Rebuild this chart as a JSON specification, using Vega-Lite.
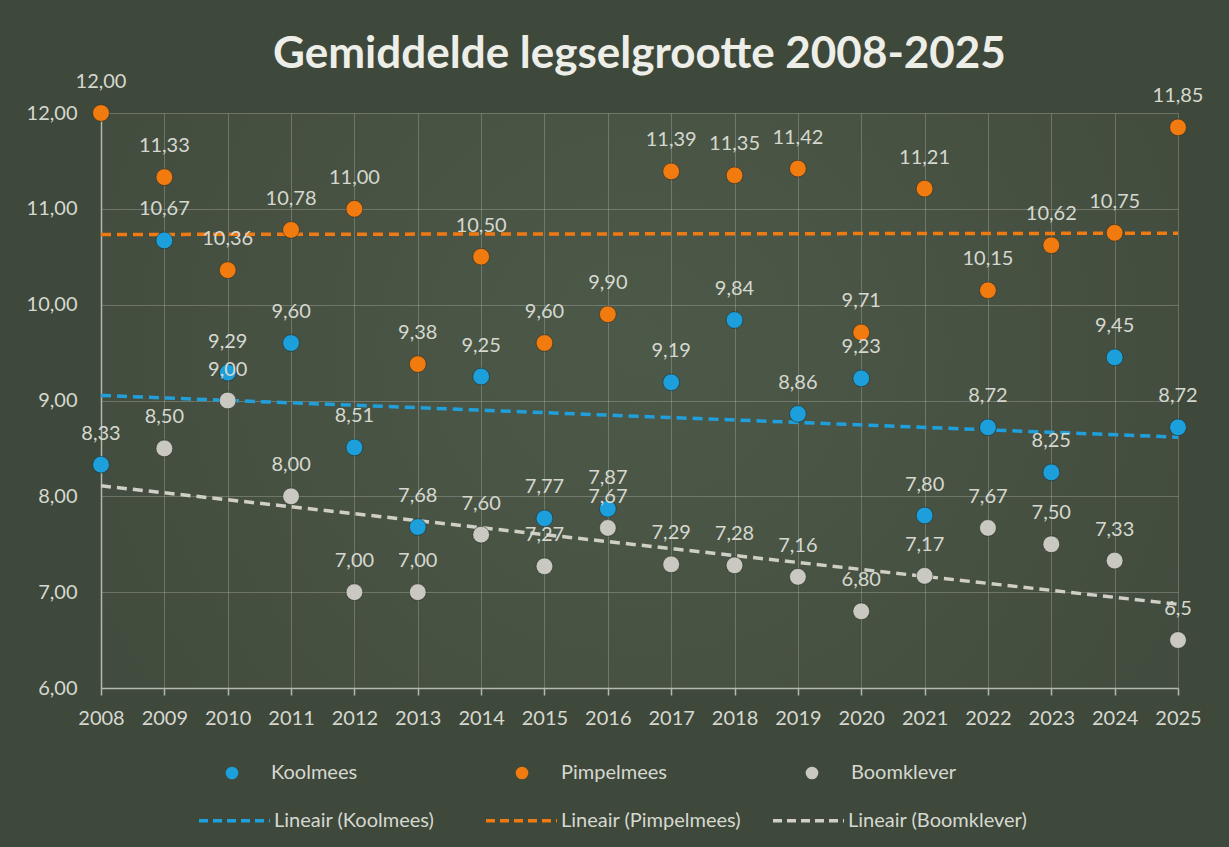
{
  "$schema": "https://vega.github.io/schema/vega-lite/v6.json",
  "width": 1077,
  "height": 575,
  "autosize": {"type": "none"},
  "padding": {"left": 101, "top": 113, "right": 51, "bottom": 159},
  "background": "#3e483b",
  "title": {
    "text": "Gemiddelde legselgrootte 2008-2025",
    "font": "Lato",
    "fontSize": 44,
    "fontWeight": "bold",
    "color": "#eeeee8",
    "anchor": "middle",
    "frame": "group",
    "baseline": "alphabetic",
    "offset": -40
  },
  "data": {
    "values": [
      {"jaar": 2008, "soort": "Koolmees", "trend": "Lineair (Koolmees)", "waarde": 8.33, "label": "8,33"},
      {"jaar": 2009, "soort": "Koolmees", "trend": "Lineair (Koolmees)", "waarde": 10.67, "label": "10,67"},
      {"jaar": 2010, "soort": "Koolmees", "trend": "Lineair (Koolmees)", "waarde": 9.29, "label": "9,29"},
      {"jaar": 2011, "soort": "Koolmees", "trend": "Lineair (Koolmees)", "waarde": 9.60, "label": "9,60"},
      {"jaar": 2012, "soort": "Koolmees", "trend": "Lineair (Koolmees)", "waarde": 8.51, "label": "8,51"},
      {"jaar": 2013, "soort": "Koolmees", "trend": "Lineair (Koolmees)", "waarde": 7.68, "label": "7,68"},
      {"jaar": 2014, "soort": "Koolmees", "trend": "Lineair (Koolmees)", "waarde": 9.25, "label": "9,25"},
      {"jaar": 2015, "soort": "Koolmees", "trend": "Lineair (Koolmees)", "waarde": 7.77, "label": "7,77"},
      {"jaar": 2016, "soort": "Koolmees", "trend": "Lineair (Koolmees)", "waarde": 7.87, "label": "7,87"},
      {"jaar": 2017, "soort": "Koolmees", "trend": "Lineair (Koolmees)", "waarde": 9.19, "label": "9,19"},
      {"jaar": 2018, "soort": "Koolmees", "trend": "Lineair (Koolmees)", "waarde": 9.84, "label": "9,84"},
      {"jaar": 2019, "soort": "Koolmees", "trend": "Lineair (Koolmees)", "waarde": 8.86, "label": "8,86"},
      {"jaar": 2020, "soort": "Koolmees", "trend": "Lineair (Koolmees)", "waarde": 9.23, "label": "9,23"},
      {"jaar": 2021, "soort": "Koolmees", "trend": "Lineair (Koolmees)", "waarde": 7.80, "label": "7,80"},
      {"jaar": 2022, "soort": "Koolmees", "trend": "Lineair (Koolmees)", "waarde": 8.72, "label": "8,72"},
      {"jaar": 2023, "soort": "Koolmees", "trend": "Lineair (Koolmees)", "waarde": 8.25, "label": "8,25"},
      {"jaar": 2024, "soort": "Koolmees", "trend": "Lineair (Koolmees)", "waarde": 9.45, "label": "9,45"},
      {"jaar": 2025, "soort": "Koolmees", "trend": "Lineair (Koolmees)", "waarde": 8.72, "label": "8,72"},
      {"jaar": 2008, "soort": "Pimpelmees", "trend": "Lineair (Pimpelmees)", "waarde": 12.00, "label": "12,00"},
      {"jaar": 2009, "soort": "Pimpelmees", "trend": "Lineair (Pimpelmees)", "waarde": 11.33, "label": "11,33"},
      {"jaar": 2010, "soort": "Pimpelmees", "trend": "Lineair (Pimpelmees)", "waarde": 10.36, "label": "10,36"},
      {"jaar": 2011, "soort": "Pimpelmees", "trend": "Lineair (Pimpelmees)", "waarde": 10.78, "label": "10,78"},
      {"jaar": 2012, "soort": "Pimpelmees", "trend": "Lineair (Pimpelmees)", "waarde": 11.00, "label": "11,00"},
      {"jaar": 2013, "soort": "Pimpelmees", "trend": "Lineair (Pimpelmees)", "waarde": 9.38, "label": "9,38"},
      {"jaar": 2014, "soort": "Pimpelmees", "trend": "Lineair (Pimpelmees)", "waarde": 10.50, "label": "10,50"},
      {"jaar": 2015, "soort": "Pimpelmees", "trend": "Lineair (Pimpelmees)", "waarde": 9.60, "label": "9,60"},
      {"jaar": 2016, "soort": "Pimpelmees", "trend": "Lineair (Pimpelmees)", "waarde": 9.90, "label": "9,90"},
      {"jaar": 2017, "soort": "Pimpelmees", "trend": "Lineair (Pimpelmees)", "waarde": 11.39, "label": "11,39"},
      {"jaar": 2018, "soort": "Pimpelmees", "trend": "Lineair (Pimpelmees)", "waarde": 11.35, "label": "11,35"},
      {"jaar": 2019, "soort": "Pimpelmees", "trend": "Lineair (Pimpelmees)", "waarde": 11.42, "label": "11,42"},
      {"jaar": 2020, "soort": "Pimpelmees", "trend": "Lineair (Pimpelmees)", "waarde": 9.71, "label": "9,71"},
      {"jaar": 2021, "soort": "Pimpelmees", "trend": "Lineair (Pimpelmees)", "waarde": 11.21, "label": "11,21"},
      {"jaar": 2022, "soort": "Pimpelmees", "trend": "Lineair (Pimpelmees)", "waarde": 10.15, "label": "10,15"},
      {"jaar": 2023, "soort": "Pimpelmees", "trend": "Lineair (Pimpelmees)", "waarde": 10.62, "label": "10,62"},
      {"jaar": 2024, "soort": "Pimpelmees", "trend": "Lineair (Pimpelmees)", "waarde": 10.75, "label": "10,75"},
      {"jaar": 2025, "soort": "Pimpelmees", "trend": "Lineair (Pimpelmees)", "waarde": 11.85, "label": "11,85"},
      {"jaar": 2009, "soort": "Boomklever", "trend": "Lineair (Boomklever)", "waarde": 8.50, "label": "8,50"},
      {"jaar": 2010, "soort": "Boomklever", "trend": "Lineair (Boomklever)", "waarde": 9.00, "label": "9,00"},
      {"jaar": 2011, "soort": "Boomklever", "trend": "Lineair (Boomklever)", "waarde": 8.00, "label": "8,00"},
      {"jaar": 2012, "soort": "Boomklever", "trend": "Lineair (Boomklever)", "waarde": 7.00, "label": "7,00"},
      {"jaar": 2013, "soort": "Boomklever", "trend": "Lineair (Boomklever)", "waarde": 7.00, "label": "7,00"},
      {"jaar": 2014, "soort": "Boomklever", "trend": "Lineair (Boomklever)", "waarde": 7.60, "label": "7,60"},
      {"jaar": 2015, "soort": "Boomklever", "trend": "Lineair (Boomklever)", "waarde": 7.27, "label": "7,27"},
      {"jaar": 2016, "soort": "Boomklever", "trend": "Lineair (Boomklever)", "waarde": 7.67, "label": "7,67"},
      {"jaar": 2017, "soort": "Boomklever", "trend": "Lineair (Boomklever)", "waarde": 7.29, "label": "7,29"},
      {"jaar": 2018, "soort": "Boomklever", "trend": "Lineair (Boomklever)", "waarde": 7.28, "label": "7,28"},
      {"jaar": 2019, "soort": "Boomklever", "trend": "Lineair (Boomklever)", "waarde": 7.16, "label": "7,16"},
      {"jaar": 2020, "soort": "Boomklever", "trend": "Lineair (Boomklever)", "waarde": 6.80, "label": "6,80"},
      {"jaar": 2021, "soort": "Boomklever", "trend": "Lineair (Boomklever)", "waarde": 7.17, "label": "7,17"},
      {"jaar": 2022, "soort": "Boomklever", "trend": "Lineair (Boomklever)", "waarde": 7.67, "label": "7,67"},
      {"jaar": 2023, "soort": "Boomklever", "trend": "Lineair (Boomklever)", "waarde": 7.50, "label": "7,50"},
      {"jaar": 2024, "soort": "Boomklever", "trend": "Lineair (Boomklever)", "waarde": 7.33, "label": "7,33"},
      {"jaar": 2025, "soort": "Boomklever", "trend": "Lineair (Boomklever)", "waarde": 6.50, "label": "6,5"}
    ]
  },
  "encoding": {
    "x": {
      "field": "jaar",
      "type": "quantitative",
      "scale": {"domain": [2008, 2025], "nice": false, "zero": false},
      "axis": {
        "title": null,
        "values": [2008, 2009, 2010, 2011, 2012, 2013, 2014, 2015, 2016, 2017, 2018, 2019, 2020, 2021, 2022, 2023, 2024, 2025],
        "format": "d",
        "grid": true,
        "ticks": true,
        "tickSize": 7,
        "labelPadding": 13,
        "labelFlush": false,
        "labelOverlap": false
      }
    },
    "y": {
      "field": "waarde",
      "type": "quantitative",
      "scale": {"domain": [6, 12], "nice": false, "zero": false},
      "axis": {
        "title": null,
        "values": [6, 7, 8, 9, 10, 11, 12],
        "format": ".2f",
        "grid": true,
        "ticks": false,
        "labelPadding": 24,
        "labelFlush": false
      }
    }
  },
  "layer": [
    {
      "transform": [
        {"regression": "waarde", "on": "jaar", "groupby": ["trend"], "method": "linear", "extent": [2008, 2025]}
      ],
      "mark": {"type": "line", "strokeWidth": 3.5, "strokeDash": [10, 6]},
      "encoding": {
        "stroke": {
          "field": "trend",
          "type": "nominal",
          "scale": {
            "domain": ["Lineair (Koolmees)", "Lineair (Pimpelmees)", "Lineair (Boomklever)"],
            "range": ["#1fa0dc", "#f07a12", "#cfcfc7"]
          },
          "legend": {
            "title": null,
            "orient": "none",
            "legendX": 96,
            "legendY": 670,
            "direction": "horizontal",
            "symbolType": "stroke",
            "symbolSize": 5041,
            "symbolStrokeWidth": 3.5,
            "symbolDash": [9, 5],
            "labelOffset": 2,
            "columnPadding": 24,
            "gridAlign": "all"
          }
        }
      }
    },
    {
      "mark": {"type": "circle", "size": 280, "opacity": 1, "stroke": "#1e241c", "strokeWidth": 1, "strokeOpacity": 0.5},
      "encoding": {
        "color": {
          "field": "soort",
          "type": "nominal",
          "scale": {
            "domain": ["Koolmees", "Pimpelmees", "Boomklever"],
            "range": ["#1c9fda", "#f27b10", "#c9c9c1"]
          },
          "legend": {
            "title": null,
            "orient": "none",
            "legendX": 121,
            "legendY": 650,
            "direction": "horizontal",
            "symbolType": "circle",
            "symbolSize": 160,
            "symbolStrokeWidth": 0,
            "labelOffset": 29,
            "columnPadding": 135,
            "gridAlign": "all"
          }
        }
      }
    },
    {
      "mark": {"type": "text", "font": "Lato", "fontSize": 20, "color": "#d6d8d0", "baseline": "alphabetic", "align": "center", "dy": -25},
      "encoding": {
        "text": {"field": "label", "type": "nominal"}
      }
    }
  ],
  "config": {
    "locale": {"number": {"decimal": ",", "thousands": ".", "grouping": [3], "currency": ["€ ", ""]}},
    "view": {
      "stroke": null,
      "fill": {
        "gradient": "radial",
        "x1": 0.5, "y1": 0.45, "r1": 0,
        "x2": 0.5, "y2": 0.45, "r2": 0.75,
        "stops": [
          {"offset": 0, "color": "#4d5948"},
          {"offset": 1, "color": "#3e483b"}
        ]
      }
    },
    "font": "Lato",
    "axis": {
      "labelFont": "Lato",
      "labelFontSize": 20,
      "labelColor": "#d6d8d0",
      "domainColor": "#b4b8b0",
      "domainWidth": 1.5,
      "tickColor": "#b4b8b0",
      "tickWidth": 1.5,
      "gridColor": "#a9b0a4",
      "gridOpacity": 0.4,
      "gridWidth": 1
    },
    "legend": {
      "labelFont": "Lato",
      "labelFontSize": 20,
      "labelColor": "#d6d8d0",
      "padding": 0,
      "labelLimit": 400
    }
  }
}
